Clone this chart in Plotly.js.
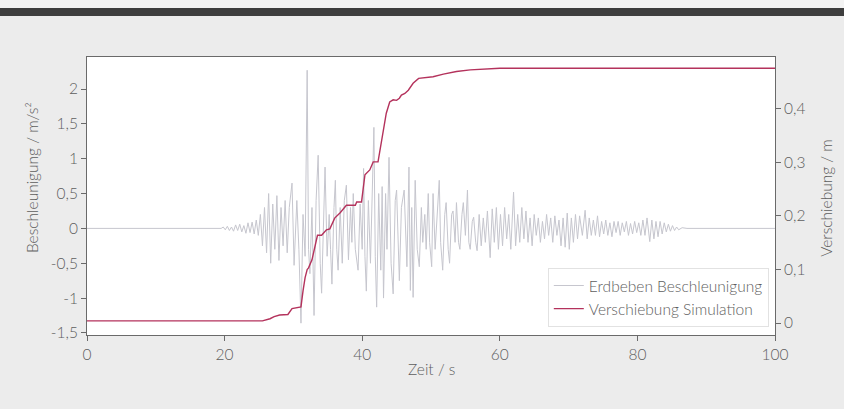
<!DOCTYPE html>
<html>
<head>
<meta charset="utf-8">
<script src="https://cdn.plot.ly/plotly-3.0.1.min.js"></script>
<style>
  html, body { margin: 0; padding: 0; background: #ececec; }
  #wrap { position: relative; width: 844px; height: 409px; overflow: hidden; background: #ececec; }
  #topstrip { position: absolute; left: 0; top: 0; width: 844px; height: 8px; background: #f3f3f3; z-index: 5; }
  #bar { position: absolute; left: 0; top: 8px; width: 844px; height: 8px; background: #3e3e3e; z-index: 5; }
  #chart { position: absolute; left: 0; top: 0; width: 844px; height: 409px; }
</style>
</head>
<body>
<div id="wrap">
  <div id="chart"></div>
  <div id="topstrip"></div>
  <div id="bar"></div>
</div>
<script>
// ---- Data ----
const accelTime = [
  0, 19.5, 19.8, 20.1, 20.4, 20.7, 21.0, 21.3, 21.6, 21.9, 22.2, 22.5, 22.8, 23.1, 23.4, 23.7, 24.0, 24.3, 24.6, 24.9,
  25.2, 25.5, 25.8, 26.1, 26.4, 26.7, 27.0, 27.3, 27.6, 27.9, 28.2, 28.5, 28.8, 29.1, 29.4, 29.8, 30.1, 30.5, 30.8, 31.1,
  31.4, 31.7, 32.0, 32.2, 32.4, 32.7, 33.0, 33.3, 33.6, 33.9, 34.1, 34.4, 34.6, 34.9, 35.2, 35.4, 35.6, 35.9, 36.1, 36.3,
  36.5, 36.8, 37.1, 37.4, 37.7, 38.0, 38.3, 38.5, 38.7, 39.0, 39.4, 39.7, 40.0, 40.2, 40.4, 40.6, 40.9, 41.2, 41.5, 41.7,
  41.9, 42.1, 42.4, 42.7, 42.9, 43.1, 43.4, 43.6, 43.9, 44.2, 44.5, 44.8, 45.0, 45.4, 45.7, 46.1, 46.5, 46.8, 47.0, 47.2,
  47.4, 47.7, 48.0, 48.3, 48.6, 48.8, 49.1, 49.3, 49.6, 49.8, 50.1, 50.3, 50.6, 50.9, 51.2, 51.4, 51.7, 52.0, 52.2, 52.5,
  52.7, 53.0, 53.2, 53.5, 53.7, 54.0, 54.2, 54.5, 54.7, 55.0, 55.3, 55.5, 55.7, 56.0, 56.2, 56.5, 56.7, 57.0, 57.3, 57.6,
  57.9, 58.2, 58.6, 58.9, 59.2, 59.5, 59.8, 60.1, 60.4, 60.7, 61.0, 61.3, 61.6, 62.0, 62.3, 62.6, 62.9, 63.2, 63.5, 63.8,
  64.1, 64.4, 64.7, 65.0, 65.3, 65.6, 65.9, 66.2, 66.5, 66.8, 67.1, 67.4, 67.7, 68.0, 68.3, 68.6, 68.9, 69.2, 69.5, 69.8,
  70.1, 70.4, 70.7, 71.0, 71.3, 71.6, 72.0, 72.4, 72.7, 73.0, 73.3, 73.6, 73.9, 74.2, 74.5, 74.8, 75.1, 75.4, 75.7, 76.0,
  76.3, 76.6, 76.9, 77.2, 77.5, 77.8, 78.1, 78.4, 78.7, 79.0, 79.3, 79.6, 79.9, 80.2, 80.5, 80.8, 81.1, 81.4, 81.8, 82.1,
  82.4, 82.7, 83.0, 83.3, 83.6, 83.9, 84.2, 84.5, 84.8, 85.1, 85.4, 85.7, 86.0, 86.5, 87.2, 100
];
const accelValue = [
  0, 0, 0.02, -0.02, 0.03, -0.03, 0.02, -0.04, 0.05, -0.03, 0.06, -0.05, 0.04, -0.07, 0.08, -0.06, 0.09, -0.08, 0.12, -0.10,
  0.20, -0.25, 0.30, -0.35, 0.50, -0.50, 0.35, -0.30, 0.47, -0.46, 0.30, -0.25, 0.40, -0.35, 0.30, 0.65, -0.53, 0.40, -0.30, -1.36,
  0.20, -0.40, 2.27, -0.30, -0.65, 0.30, -1.25, 0.40, 1.05, -0.50, -0.93, 0.30, 0.88, -0.40, 0.20, -0.30, -0.80, 0.30, 0.69, -0.30,
  -0.60, 0.30, -0.50, 0.40, 0.62, -0.45, 0.30, -0.20, 0.50, -0.30, -0.60, 0.35, -0.30, 0.86, -0.40, -0.90, 0.40, -0.50, 0.60, 1.45,
  -0.40, -1.13, 0.50, -0.60, 0.60, -1.00, 0.50, -0.30, 1.02, -0.50, -0.94, 0.40, 0.55, -0.75, 0.30, 0.55, -0.55, 0.88, -0.89, 0.30,
  -0.99, 0.69, -0.30, -0.55, 0.30, -0.20, 0.20, -0.30, 0.50, -0.20, -0.55, 0.50, -0.30, 0.30, 0.69, -0.20, -0.60, 0.20, 0.37, -0.30,
  -0.50, 0.20, 0.25, -0.20, 0.37, -0.20, -0.30, 0.20, 0.37, -0.10, 0.55, -0.20, -0.30, 0.10, 0.16, -0.20, -0.32, 0.20, -0.25, 0.15,
  -0.20, 0.25, -0.42, 0.28, -0.20, 0.30, -0.30, 0.20, -0.25, 0.30, -0.15, 0.20, -0.30, 0.52, -0.25, 0.20, -0.20, 0.30, -0.15, 0.25,
  -0.20, 0.15, -0.25, 0.20, -0.10, 0.15, -0.20, 0.10, -0.15, 0.20, -0.10, 0.15, -0.20, 0.18, -0.10, 0.12, -0.25, 0.15, -0.27, 0.22,
  -0.30, 0.15, -0.20, 0.20, -0.15, 0.18, -0.10, 0.26, -0.15, 0.15, -0.10, 0.12, -0.10, 0.18, -0.12, 0.10, -0.08, 0.12, -0.10, 0.08,
  -0.12, 0.10, -0.06, 0.10, -0.10, 0.08, -0.05, 0.10, -0.10, 0.07, -0.08, 0.10, -0.06, 0.08, -0.10, 0.12, -0.10, 0.15, -0.19, 0.12,
  -0.15, 0.10, -0.12, 0.10, -0.08, 0.08, -0.05, 0.06, -0.04, 0.04, -0.03, 0.02, -0.02, 0.01, 0, 0
];

const dispTime = [
  0, 25.5, 26.6, 27.2, 28.0, 29.2, 29.8, 30.6, 31.1, 31.4, 31.7, 32.0, 32.2, 32.7, 33.5, 34.1, 34.8, 35.3, 36.0, 36.8,
  37.5, 37.7, 39.0, 39.2, 39.9, 40.4, 41.1, 41.6, 42.3, 42.8, 43.5, 44.0, 44.5, 45.0, 45.4, 45.7, 46.2, 46.7, 47.4, 48.2,
  50.3, 51.8, 53.7, 55.7, 57.1, 60.0, 100
];
const dispValue = [
  0.004, 0.004, 0.008, 0.012, 0.015, 0.016, 0.027, 0.028, 0.030, 0.060, 0.085, 0.100, 0.103, 0.118, 0.164, 0.164, 0.174, 0.176, 0.196, 0.206,
  0.217, 0.220, 0.220, 0.226, 0.226, 0.277, 0.286, 0.301, 0.301, 0.336, 0.392, 0.413, 0.417, 0.416, 0.420, 0.426, 0.429, 0.435, 0.448, 0.457,
  0.460, 0.465, 0.470, 0.473, 0.474, 0.476, 0.476
];

const leftTickVals = [-1.5, -1, -0.5, 0, 0.5, 1, 1.5, 2];
const leftTickText = ['-1,5', '-1', '-0,5', '0', '0,5', '1', '1,5', '2'];
const rightTickVals = [0, 0.1, 0.2, 0.3, 0.4];
const rightTickText = ['0', '0,1', '0,2', '0,3', '0,4'];
const xTickVals = [0, 20, 40, 60, 80, 100];
const xTickText = ['0', '20', '40', '60', '80', '100'];

const seriesNames = ['Erdbeben Beschleunigung', 'Verschiebung Simulation'];
const xTitle = 'Zeit / s';
const yTitle = 'Beschleunigung / m/s²';
const y2Title = 'Verschiebung / m';

// ---- Chart ----
const FONT = 'Lato, "Open Sans", sans-serif';
const TXT = '#5e5e5e';
const AX = '#6a6a6a';
const W = 300;

const traces = [
  {
    x: accelTime, y: accelValue, name: seriesNames[0], type: 'scatter', mode: 'lines',
    line: { color: '#c6c6ce', width: 1 }, yaxis: 'y'
  },
  {
    x: dispTime, y: dispValue, name: seriesNames[1], type: 'scatter', mode: 'lines',
    line: { color: '#b4325c', width: 1.4 }, yaxis: 'y2'
  }
];

const tf = { family: FONT, size: 15.5, color: TXT, weight: W };

const layout = {
  width: 844, height: 409,
  margin: { l: 87, r: 69, t: 57, b: 74 },
  paper_bgcolor: '#ececec',
  plot_bgcolor: '#ffffff',
  separators: ',.',
  font: { family: FONT, color: TXT, size: 15, weight: W },
  showlegend: true,
  legend: {
    x: 0.991, y: 0.029, xanchor: 'right', yanchor: 'bottom',
    bgcolor: '#ffffff', bordercolor: '#e2e2e2', borderwidth: 1,
    font: { family: FONT, size: 15.5, color: TXT, weight: W },
    tracegroupgap: 0
  },
  xaxis: {
    range: [0, 100], tickvals: xTickVals, ticktext: xTickText,
    showgrid: false, zeroline: false, showline: true, linecolor: AX, linewidth: 1,
    mirror: true, ticks: 'outside', ticklen: 5, tickcolor: AX,
    tickfont: tf
  },
  yaxis: {
    range: [-1.53, 2.46], tickvals: leftTickVals, ticktext: leftTickText,
    showgrid: false, zeroline: false, showline: true, linecolor: AX, linewidth: 1,
    ticks: 'outside', ticklen: 5, tickcolor: AX,
    tickfont: tf
  },
  yaxis2: {
    range: [-0.0224, 0.497], tickvals: rightTickVals, ticktext: rightTickText,
    overlaying: 'y', side: 'right',
    showgrid: false, zeroline: false, showline: true, linecolor: AX, linewidth: 1,
    ticks: 'outside', ticklen: 5, tickcolor: AX,
    tickfont: tf
  },
  annotations: [
    { text: xTitle, xref: 'paper', yref: 'paper', x: 0.5, y: -0.122, xanchor: 'center', yanchor: 'middle',
      showarrow: false, font: tf },
    { text: yTitle, xref: 'paper', yref: 'paper', x: -0.080, y: 0.568, xanchor: 'center', yanchor: 'middle',
      textangle: -90, showarrow: false, font: tf },
    { text: y2Title, xref: 'paper', yref: 'paper', x: 1.074, y: 0.493, xanchor: 'center', yanchor: 'middle',
      textangle: -90, showarrow: false, font: tf }
  ]
};

Plotly.newPlot('chart', traces, layout, { displayModeBar: false, staticPlot: true });
</script>
</body>
</html>
